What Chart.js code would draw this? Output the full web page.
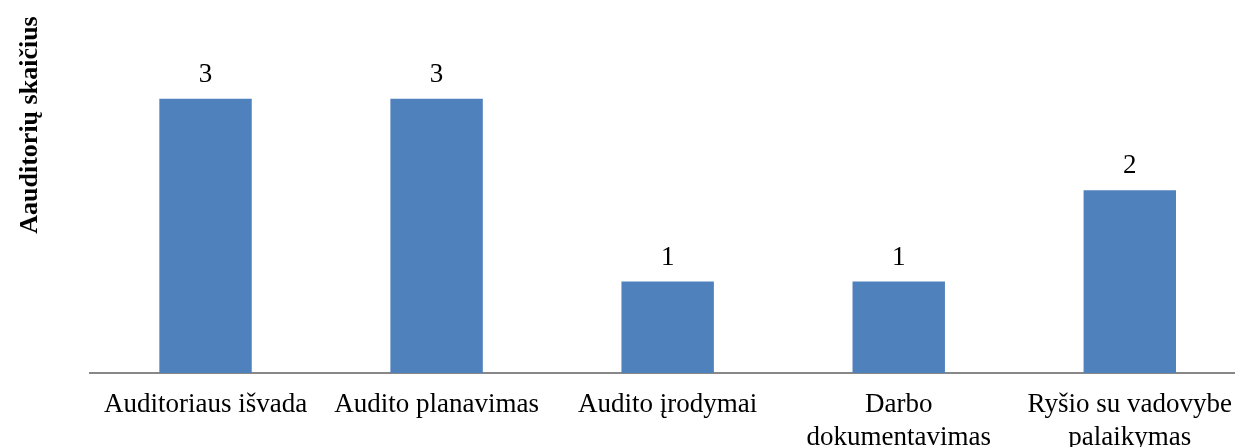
<!DOCTYPE html>
<html>
<head>
<meta charset="utf-8">
<script src="https://cdn.jsdelivr.net/npm/chart.js@4/dist/chart.umd.min.js"></script>
<style>
  html, body { margin: 0; padding: 0; background: #fff; }
  #wrap { width: 1235px; height: 447px; overflow: hidden; position: relative; }
  #chartBox { width: 1248px; height: 447px; position: absolute; left: 0; top: 0; }
</style>
</head>
<body>
<div id="wrap"><div id="chartBox"><canvas id="chart"></canvas></div></div>
<script>
// data
const categories = [
    "Auditoriaus išvada",
    "Audito planavimas",
    "Audito įrodymai",
    ["Darbo", "dokumentavimas"],
    ["Ryšio su vadovybe", "palaikymas"]
];
const auditorCounts = [3, 3, 1, 1, 2];
const yTitle = "Aauditorių skaičius";

const serif = "'Liberation Serif', 'Times New Roman', serif";

// value above each bar
const valueLabels = {
    id: "valueLabels",
    afterDatasetsDraw(chart) {
        const ctx = chart.ctx;
        const meta = chart.getDatasetMeta(0);
        ctx.save();
        ctx.font = "27px " + serif;
        ctx.fillStyle = "#000";
        ctx.textAlign = "center";
        ctx.textBaseline = "alphabetic";
        meta.data.forEach((bar, i) => {
            ctx.fillText(String(auditorCounts[i]), bar.x, bar.y - 17);
        });
        ctx.restore();
    }
};

// rotated axis title, placed like the original (not centred on the plot)
const sideTitle = {
    id: "sideTitle",
    afterDraw(chart) {
        const ctx = chart.ctx;
        ctx.save();
        ctx.translate(37, 125);
        ctx.rotate(-Math.PI / 2);
        ctx.font = "bold 26px " + serif;
        ctx.fillStyle = "#000";
        ctx.textAlign = "center";
        ctx.textBaseline = "alphabetic";
        ctx.fillText(yTitle, 0, 0);
        ctx.restore();
    }
};

new Chart(document.getElementById("chart"), {
    type: "bar",
    data: {
        labels: categories,
        datasets: [{
            data: auditorCounts,
            backgroundColor: "#4F81BD",
            borderWidth: 0,
            categoryPercentage: 1.0,
            barPercentage: 0.4
        }]
    },
    options: {
        responsive: true,
        maintainAspectRatio: false,
        animation: false,
        layout: { padding: { left: 90, top: 53, right: 0, bottom: 0 } },
        plugins: {
            legend: { display: false },
            tooltip: { enabled: false }
        },
        scales: {
            x: {
                grid: { display: false, drawTicks: false },
                border: { display: true, color: "#888888", width: 2 },
                ticks: {
                    font: { family: serif, size: 27, lineHeight: 1.2 },
                    color: "#000",
                    padding: 16,
                    maxRotation: 0,
                    autoSkip: false
                },
                afterFit(scale) { scale.height = 74; }
            },
            y: {
                display: false,
                min: 0,
                max: 3.5
            }
        }
    },
    plugins: [valueLabels, sideTitle]
});
</script>
</body>
</html>
